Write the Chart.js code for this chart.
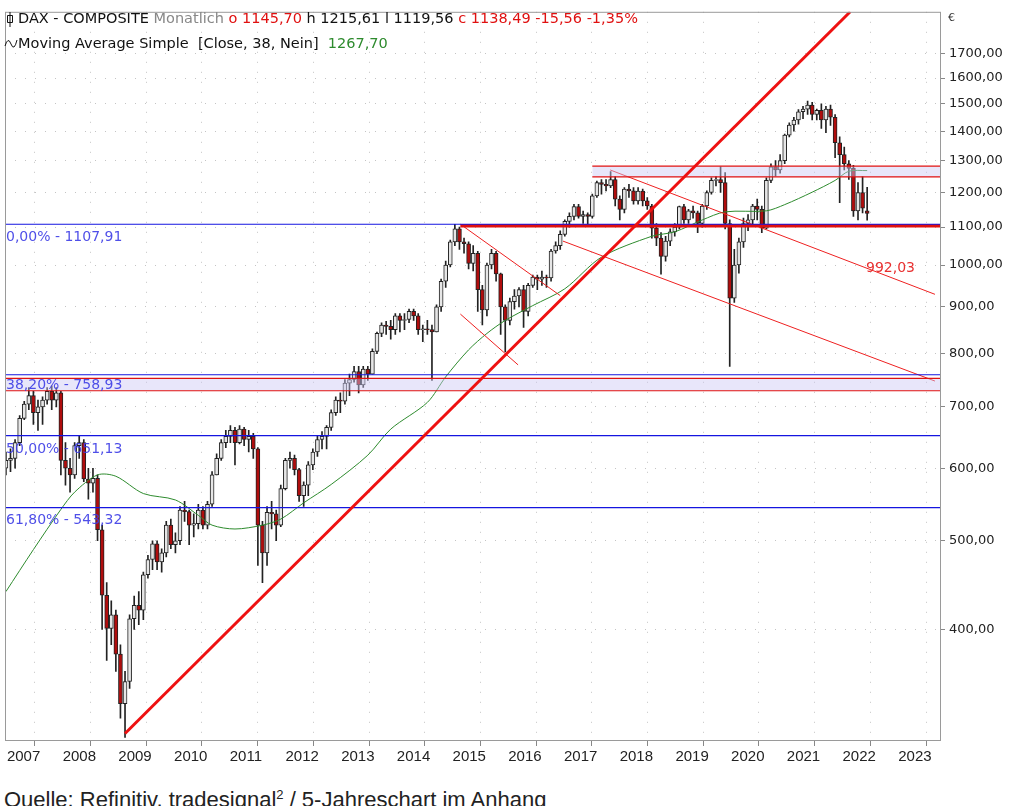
<!DOCTYPE html>
<html>
<head>
<meta charset="utf-8">
<script src="https://cdn.jsdelivr.net/npm/chart.js@4.4.0/dist/chart.umd.min.js"></script>
<style>
  body { margin: 0; background: #fff; overflow: hidden; }
  #wrap { position: absolute; left: 0; top: 0; width: 1031px; height: 772px; }
  #src { position: absolute; left: 4px; top: 787px; font: 22px "Liberation Sans Narrow", "Liberation Sans", sans-serif; color: #222; white-space: nowrap; }
</style>
</head>
<body>
<div id="wrap"><canvas id="chart"></canvas></div>
<div id="src">Quelle: Refinitiv, tradesignal<sup style="font-size:13px">2</sup> / 5-Jahreschart im Anhang</div>
<script>
// monthly candles, Jan 2007 .. Sep 2022
var closes = [
  612,615,640,680,705,720,690,700,712,728,712,725,
  612,600,590,635,640,584,578,585,514,436,401,415,
  376,332,351,411,425,420,459,477,496,474,485,520,
  495,500,540,538,520,522,540,520,548,590,615,640,
  650,660,640,662,645,650,630,520,485,537,535,520,
  570,612,615,598,560,575,605,625,645,650,665,690,
  712,710,743,750,765,740,770,760,805,842,860,857,
  850,880,870,872,890,880,850,852,850,845,900,960,
  1000,1060,1095,1060,1055,1004,1030,940,893,1000,1030,978,
  900,870,912,925,940,890,950,970,965,970,968,1036,
  1050,1080,1116,1130,1158,1130,1135,1130,1190,1230,1225,1220,
  1240,1180,1150,1210,1205,1175,1204,1175,1160,1097,1070,1022,
  1062,1087,1100,1158,1120,1146,1140,1110,1160,1200,1237,1240,
  1230,1110,920,1000,1060,1110,1120,1160,1150,1097,1237,1280,
  1270,1300,1386,1422,1440,1470,1480,1495,1460,1475,1440,1480,
  1450,1360,1320,1290,1275,1146,1200,1154,1138.49
];
var highs = [
  625,630,645,685,710,735,728,712,718,735,738,735,
  728,640,615,640,650,645,600,600,590,520,450,430,
  420,385,360,415,435,440,462,482,500,500,490,525,
  528,510,545,552,540,535,548,545,552,595,622,645,
  660,668,665,668,665,660,655,632,525,545,552,540,
  575,615,625,620,600,580,610,630,650,658,668,695,
  718,725,750,760,775,775,775,775,810,845,865,868,
  870,885,885,885,895,895,885,860,870,860,905,965,
  1010,1065,1108,1100,1070,1060,1050,1035,950,1005,1040,1035,
  980,905,920,940,945,950,955,975,975,985,975,1040,
  1060,1090,1120,1140,1165,1165,1145,1140,1195,1235,1240,1240,
  1265,1250,1190,1215,1225,1215,1215,1210,1185,1165,1110,1085,
  1075,1095,1110,1160,1165,1150,1160,1145,1165,1205,1245,1250,
  1280,1262,1120,1040,1070,1125,1135,1165,1180,1160,1245,1290,
  1300,1320,1390,1430,1450,1478,1490,1510,1505,1480,1500,1490,
  1495,1460,1380,1345,1300,1285,1230,1250,1215.61
];
var lows = [
  590,595,600,635,678,695,670,660,670,705,695,700,
  590,575,565,585,615,580,555,565,500,400,370,385,
  360,320,305,345,400,405,410,455,465,465,462,480,
  490,485,495,525,495,505,515,515,515,545,590,612,
  632,640,605,638,635,625,615,470,450,470,515,500,
  518,568,600,590,552,545,560,598,618,630,630,660,
  685,690,705,720,745,725,735,748,760,800,835,840,
  830,840,845,850,865,870,840,825,840,748,845,890,
  945,995,1050,1040,1030,990,985,890,860,880,990,960,
  840,804,860,895,900,855,880,945,940,950,945,960,
  1030,1040,1075,1100,1120,1125,1110,1105,1125,1185,1195,1205,
  1215,1160,1120,1140,1185,1165,1165,1160,1150,1070,1050,977,
  1010,1050,1075,1095,1110,1110,1125,1085,1100,1150,1195,1220,
  1200,1095,775,910,980,1045,1090,1105,1120,1085,1095,1230,
  1250,1260,1290,1380,1400,1425,1445,1460,1440,1440,1410,1395,
  1420,1310,1170,1270,1240,1130,1120,1140,1119.56
];
var firstOpen = 600;
var lastOpen = 1145.70;

// 38-month simple moving average (month index, value)
var maIdx  = [0,6,12,15,20,24,30,37,42,45,50,56,60,65,71,79,84,92,96,101,105,109,115,122,130,141,146,152,157,166,170,176,181,184,188];
var maVals = [440,489,541,565,590,588,563,554,533,520,515,520,528,550,576,620,662,708,755,808,842,870,903,942,1020,1075,1087,1120,1143,1146,1164,1201,1237,1266,1268];

var yearLabels = ['2007','2008','2009','2010','2011','2012','2013','2014','2015','2016','2017','2018','2019','2020','2021','2022','2023'];
var priceTicks = [400,500,600,700,800,900,1000,1100,1200,1300,1400,1500,1600,1700];

// fibonacci levels and resistance bands
var fibLevels = [1107.91, 758.93, 651.13, 543.32];
var fibLabels = ['0,00% - 1107,91', '38,20% - 758,93', '50,00% - 651,13', '61,80% - 543,32'];
var bandLow  = [729, 1248];
var bandHigh = [752, 1282];
var bandFrom = [-2, 128];

// trend lines: [x1, y1, x2, y2] in month index / price
var mainTrend = [26, 308, 184.3, 1890];
var thinTrends = [
  [99.2, 1108, 121, 926],
  [99.2, 884, 111.8, 778],
  [121.6, 1062, 202.8, 747],
  [131.9, 1270, 202.8, 929]
];

var opens = closes.map(function (c, i) { return i === 0 ? firstOpen : closes[i - 1]; });
opens[opens.length - 1] = lastOpen;

var wicks = closes.map(function (c, i) { return { x: i, y: [lows[i], highs[i]] }; });
var bodies = closes.map(function (c, i) { return { x: i, y: [opens[i], c] }; });
var bodyColors = closes.map(function (c, i) { return c >= opens[i] ? '#e6e6e6' : '#b00d0d'; });

function seg(x1, y1, x2, y2) { return [{ x: x1, y: y1 }, { x: x2, y: y2 }]; }

var datasets = [];
bandLow.forEach(function (lo, k) {
  datasets.push({ type: 'line', data: seg(bandFrom[k], lo, 204, lo), borderColor: '#e01010', borderWidth: 1.2, pointRadius: 0, fill: false, order: 1 });
  datasets.push({ type: 'line', data: seg(bandFrom[k], bandHigh[k], 204, bandHigh[k]), borderColor: '#e01010', borderWidth: 1.2, pointRadius: 0, fill: '-1', backgroundColor: 'rgba(205,200,245,0.45)', order: 1 });
});
datasets.push({ type: 'bar', data: wicks, backgroundColor: '#222', barThickness: 1, grouped: false, order: 5 });
datasets.push({ type: 'bar', data: bodies, backgroundColor: bodyColors, borderColor: '#222', borderWidth: 1, borderSkipped: false, barThickness: 4, grouped: false, order: 4 });
datasets.push({ type: 'line', data: maIdx.map(function (x, i) { return { x: x, y: maVals[i] }; }), borderColor: '#2e8b2e', borderWidth: 1, pointRadius: 0, tension: 0.3, order: 3 });
fibLevels.forEach(function (v) {
  datasets.push({ type: 'line', data: seg(-2, v, 204, v), borderColor: '#1515e0', borderWidth: 1.2, pointRadius: 0, order: 2 });
});
datasets.push({ type: 'line', data: seg(99.2, 1104, 204, 1104), borderColor: '#e01010', borderWidth: 3.5, pointRadius: 0, order: 2 });
thinTrends.forEach(function (t) {
  datasets.push({ type: 'line', data: seg(t[0], t[1], t[2], t[3]), borderColor: '#ee2020', borderWidth: 1, pointRadius: 0, order: 2 });
});
datasets.push({ type: 'line', data: seg(mainTrend[0], mainTrend[1], mainTrend[2], mainTrend[3]), borderColor: '#ee1111', borderWidth: 3, pointRadius: 0, order: 0 });

var overlay = {
  id: 'overlay',
  afterDraw: function (chart) {
    var ctx = chart.ctx, a = chart.chartArea, ys = chart.scales.y;
    ctx.save();
    ctx.strokeStyle = '#9a9a9a';
    ctx.lineWidth = 1;
    ctx.strokeRect(a.left + 0.5, a.top + 0.5, a.right - a.left, a.bottom - a.top);
    ctx.font = '14px "DejaVu Sans"';
    ctx.textBaseline = 'middle';
    ctx.fillStyle = 'rgba(60,60,230,0.9)';
    var off = [13, 11, 14, 13];
    fibLevels.forEach(function (v, k) {
      ctx.fillText(fibLabels[k], a.left + 1, ys.getPixelForValue(v) + off[k]);
    });
    ctx.fillStyle = '#e83030';
    ctx.fillText('992,03', 866, ys.getPixelForValue(992.03));
    // header
    var parts = [['DAX - COMPOSITE ', '#111'], ['Monatlich ', '#888'], ['o 1145,70 ', '#e01010'], ['h 1215,61 ', '#111'], ['l 1119,56 ', '#111'], ['c 1138,49 -15,56 -1,35%', '#e01010']];
    ctx.font = '14.5px "DejaVu Sans"';
    var x = 18;
    parts.forEach(function (p) { ctx.fillStyle = p[1]; ctx.fillText(p[0], x, 19); x += ctx.measureText(p[0]).width; });
    x = 18;
    var parts2 = [['Moving Average Simple  [Close, 38, Nein]  ', '#111'], ['1267,70', '#2e8b2e']];
    parts2.forEach(function (p) { ctx.fillStyle = p[1]; ctx.fillText(p[0], x, 44); x += ctx.measureText(p[0]).width; });
    ctx.strokeStyle = '#111';
    ctx.beginPath();
    ctx.moveTo(10, 12); ctx.lineTo(10, 27);
    ctx.rect(7.5, 15.5, 5, 7);
    ctx.moveTo(5, 46); ctx.quadraticCurveTo(8, 36, 11, 44); ctx.quadraticCurveTo(14, 52, 17, 40);
    ctx.stroke();
    ctx.fillStyle = '#333';
    ctx.font = '11px "DejaVu Sans"';
    ctx.fillText('€', 948, 18);
    ctx.restore();
  }
};

new Chart(document.getElementById('chart'), {
  type: 'bar',
  data: { datasets: datasets },
  plugins: [overlay],
  options: {
    responsive: true,
    maintainAspectRatio: false,
    animation: false,
    layout: { padding: { left: 5, top: 0, right: 0, bottom: 0 } },
    plugins: { legend: { display: false }, tooltip: { enabled: false } },
    scales: {
      x: {
        type: 'linear', min: -0.2, max: 203.9, offset: false,
        afterBuildTicks: function (s) { s.ticks = yearLabels.map(function (l, k) { return { value: 0.22 + 12.16 * k }; }); },
        afterFit: function (s) { s.height = 32; },
        ticks: { align: 'start', padding: 2, color: '#222', font: { family: 'Liberation Sans Narrow, Liberation Sans', size: 15 },
          callback: function (v, i) { return yearLabels[i]; } },
        grid: { color: '#c4c4c4', tickLength: 6, tickColor: '#888' },
        border: { display: false, dash: [1, 9] }
      },
      y: {
        type: 'logarithmic', position: 'right', min: 303, max: 1890,
        afterBuildTicks: function (s) { s.ticks = priceTicks.map(function (v) { return { value: v }; }); },
        afterFit: function (s) { s.width = 91; },
        ticks: { color: '#222', padding: 4, font: { family: 'DejaVu Sans', size: 13 },
          callback: function (v) { return v.toFixed(2).replace('.', ','); } },
        grid: { color: '#c4c4c4', tickLength: 5, tickColor: '#888' },
        border: { display: false, dash: [1, 9] }
      }
    }
  }
});
</script>
</body>
</html>
